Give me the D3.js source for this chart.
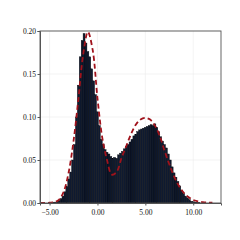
<!DOCTYPE html>
<html>
<head>
<meta charset="utf-8">
<script src="https://cdn.jsdelivr.net/npm/d3@7"></script>
<style>
  body { margin: 0; background: #fff; }
  .tick text { font-family: "Liberation Serif", "DejaVu Serif", serif; font-size: 7.5px; fill: #111; }
</style>
</head>
<body>
<div id="chart"></div>
<script>
// histogram bins (left edge), width 0.2, density values
const binStart = -5.1;
const binWidth = 0.2;
const binDensity = [
  0.0003, 0.0005, 0.001, 0.001, 0.002, 0.003, 0.005, 0.008, 0.013, 0.019,
  0.028, 0.036, 0.050, 0.068, 0.100, 0.137, 0.170, 0.189, 0.197, 0.186,
  0.176, 0.170, 0.156, 0.142, 0.126, 0.106, 0.090, 0.074, 0.068, 0.062,
  0.059, 0.057, 0.054, 0.052, 0.053, 0.052, 0.056, 0.058, 0.060, 0.063,
  0.066, 0.068, 0.071, 0.074, 0.078, 0.080, 0.083, 0.085, 0.086, 0.087,
  0.088, 0.089, 0.090, 0.091, 0.090, 0.092, 0.088, 0.083, 0.077, 0.072,
  0.068, 0.064, 0.057, 0.050, 0.042, 0.035, 0.030, 0.025, 0.020, 0.015,
  0.011, 0.008, 0.006, 0.004, 0.002, 0.0015, 0.001, 0.0005, 0.0003
];

// dashed fitted density curve
const curveX = [-6, -5, -4.5, -4, -3.5, -3, -2.5, -2, -1.5, -1, -0.5, 0, 0.5, 1, 1.5, 2, 2.5,
  3, 3.5, 4, 4.5, 5, 5.5, 6, 6.5, 7, 7.5, 8, 8.5, 9, 9.5, 10, 10.5, 11, 11.5, 12];
const curveY = [0, 0.0003, 0.001, 0.004, 0.014, 0.036, 0.072, 0.120, 0.172, 0.199, 0.178, 0.122,
  0.076, 0.050, 0.033, 0.036, 0.052, 0.066, 0.080, 0.091, 0.097, 0.099, 0.097, 0.090, 0.078,
  0.061, 0.045, 0.031, 0.020, 0.012, 0.007, 0.0035, 0.002, 0.001, 0.0006, 0.0003];

const xTicks = [-5, 0, 5, 10];
const yTicks = [0, 0.05, 0.10, 0.15, 0.20];

const W = 240, H = 240;
const margin = { top: 31, right: 19, bottom: 37, left: 40 };

const svg = d3.select("#chart").append("svg")
  .attr("width", W)
  .attr("height", H);

const x = d3.scaleLinear().domain([-6, 12.9]).range([margin.left, W - margin.right]);
const y = d3.scaleLinear().domain([0, 0.2]).range([H - margin.bottom, margin.top]);

// grid
svg.append("g")
  .selectAll("line.vg")
  .data(xTicks)
  .join("line")
  .attr("x1", d => x(d)).attr("x2", d => x(d))
  .attr("y1", margin.top).attr("y2", H - margin.bottom)
  .attr("stroke", "#ebebeb").attr("stroke-width", 0.6);

svg.append("g")
  .selectAll("line.hg")
  .data(yTicks)
  .join("line")
  .attr("x1", margin.left).attr("x2", W - margin.right)
  .attr("y1", d => y(d)).attr("y2", d => y(d))
  .attr("stroke", "#ebebeb").attr("stroke-width", 0.6);

// bars
const bins = binDensity.map((d, i) => ({ x0: binStart + i * binWidth, x1: binStart + (i + 1) * binWidth, d: d }));
svg.append("g")
  .selectAll("rect")
  .data(bins)
  .join("rect")
  .attr("x", b => x(b.x0))
  .attr("width", b => x(b.x1) - x(b.x0))
  .attr("y", b => y(b.d))
  .attr("height", b => y(0) - y(b.d))
  .attr("fill", "#0f1a30")
  .attr("stroke", "#020408")
  .attr("stroke-width", 0.4);

// dashed curve
const line = d3.line()
  .x((d, i) => x(curveX[i]))
  .y(d => y(d))
  .curve(d3.curveCatmullRom);

svg.append("path")
  .datum(curveY)
  .attr("d", line)
  .attr("fill", "none")
  .attr("stroke", "#a0121b")
  .attr("stroke-width", 1.8)
  .attr("stroke-dasharray", "5,3");

// frame
svg.append("rect")
  .attr("x", margin.left).attr("y", margin.top)
  .attr("width", W - margin.left - margin.right)
  .attr("height", H - margin.top - margin.bottom)
  .attr("fill", "none")
  .attr("stroke", "#555")
  .attr("stroke-width", 0.9);

// axes
const xAxis = svg.append("g")
  .attr("transform", `translate(0,${H - margin.bottom})`)
  .call(d3.axisBottom(x).tickValues(xTicks).tickFormat(d3.format(".2f")).tickSize(2.5).tickPadding(4));
const yAxis = svg.append("g")
  .attr("transform", `translate(${margin.left},0)`)
  .call(d3.axisLeft(y).tickValues(yTicks).tickFormat(d3.format(".2f")).tickSize(2.5).tickPadding(1.5));

[xAxis, yAxis].forEach(a => {
  a.select(".domain").attr("stroke", "#555");
  a.selectAll(".tick line").attr("stroke", "#555");
});
</script>
</body>
</html>
